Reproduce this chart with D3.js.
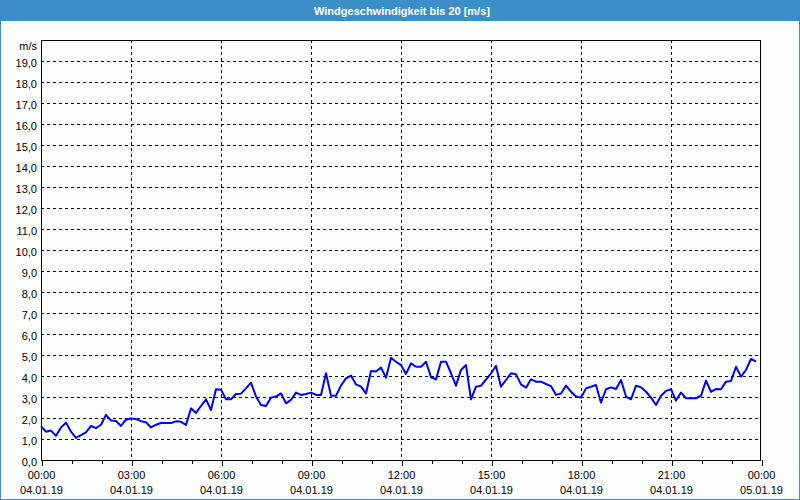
<!DOCTYPE html>
<html><head><meta charset="utf-8">
<script src="https://cdn.jsdelivr.net/npm/d3@7"></script>
<style>html,body{margin:0;padding:0;background:#fff;}svg{display:block;}</style>
</head><body>
<script>
const title = "Windgeschwindigkeit bis 20 [m/s]";
const unitLabel = "m/s";
const startTime = "2019-01-04T00:00:00";
const endTime = "2019-01-05T00:00:00";
const stepMinutes = 10;
const yTicks = [0,1,2,3,4,5,6,7,8,9,10,11,12,13,14,15,16,17,18,19];
const windSpeed = [
 1.6,1.35,1.4,1.15,1.55,1.78,1.35,1.05,1.18,1.32,1.62,1.52,1.68,2.15,1.88,1.86,1.62,1.92,
 1.98,1.95,1.85,1.8,1.55,1.68,1.76,1.76,1.76,1.84,1.82,1.67,2.46,2.24,2.57,2.89,2.38,3.37,
 3.35,2.89,2.89,3.14,3.16,3.41,3.68,3.02,2.62,2.57,2.97,3.02,3.17,2.7,2.86,3.21,3.1,3.14,
 3.21,3.1,3.1,4.13,3.06,3.06,3.54,3.89,4.02,3.6,3.49,3.17,4.24,4.21,4.4,3.92,4.87,4.68,
 4.52,4.1,4.6,4.44,4.44,4.68,3.94,3.84,4.68,4.68,4.13,3.54,4.29,4.52,2.89,3.49,3.54,3.83,
 4.13,4.48,3.49,3.81,4.13,4.08,3.6,3.44,3.84,3.73,3.73,3.62,3.52,3.1,3.17,3.54,3.25,3.02,
 2.97,3.41,3.49,3.57,2.73,3.37,3.46,3.38,3.81,3.02,2.89,3.54,3.46,3.25,2.97,2.62,3.06,3.29,
 3.37,2.83,3.21,2.94,2.94,2.94,3.06,3.78,3.25,3.38,3.37,3.73,3.76,4.44,3.97,4.29,4.81,4.68
];

const W = 800, H = 500;
const m = {left: 41, right: 761, top: 40, bottom: 460};
const font = "'Liberation Sans', Arial, sans-serif";
const blue = "#3b8fc6";

const svg = d3.select("body").append("svg").attr("width", W).attr("height", H);
svg.append("rect").attr("x",0.5).attr("y",0.5).attr("width",W-1).attr("height",H-1)
  .attr("fill","#fcfefc").attr("stroke",blue);
svg.append("rect").attr("x",0).attr("y",0).attr("width",W).attr("height",21).attr("fill",blue);
svg.append("text").attr("x",W/2+2).attr("y",11).attr("dy","0.35em").attr("text-anchor","middle")
  .attr("fill","#fff").attr("font-family",font).attr("font-weight","bold").attr("font-size","11px")
  .text(title);

const t0 = new Date(startTime), t1 = new Date(endTime);
const data = windSpeed.map((v,i)=>({t:new Date(t0.getTime()+i*stepMinutes*60000), v}));
const x = d3.scaleTime().domain([t0,t1]).range([m.left,m.right]);
const y = d3.scaleLinear().domain([0,20]).range([m.bottom,m.top]);

// grid
const majorTimes = d3.timeHour.every(3).range(t0, d3.timeMinute.offset(t1,1));
svg.append("g").selectAll("line").data(yTicks.filter(d=>d>0)).join("line")
  .attr("x1",m.left).attr("x2",m.right)
  .attr("y1",d=>Math.round(y(d))+0.5).attr("y2",d=>Math.round(y(d))+0.5)
  .attr("stroke","#000").attr("stroke-dasharray","3,3").attr("shape-rendering","crispEdges");
svg.append("g").selectAll("line").data(majorTimes.filter(d=>+d>+t0 && +d<+t1)).join("line")
  .attr("x1",d=>Math.round(x(d))+0.5).attr("x2",d=>Math.round(x(d))+0.5)
  .attr("y1",m.top).attr("y2",m.bottom)
  .attr("stroke","#000").attr("stroke-dasharray","3,3").attr("shape-rendering","crispEdges");

// x axis ticks
const xAxisMinor = d3.axisBottom(x).ticks(d3.timeHour.every(1)).tickSize(4).tickFormat("");
const gxm = svg.append("g").attr("transform",`translate(0.5,${m.bottom})`).call(xAxisMinor);
gxm.select(".domain").remove();
gxm.selectAll("line").attr("stroke","#000").attr("shape-rendering","crispEdges");
const xAxisMajor = d3.axisBottom(x).tickValues(majorTimes).tickSize(6).tickFormat("");
const gx = svg.append("g").attr("transform",`translate(0.5,${m.bottom})`).call(xAxisMajor);
gx.select(".domain").remove();
gx.selectAll("line").attr("stroke","#000").attr("shape-rendering","crispEdges");
const fT = d3.timeFormat("%H:%M"), fD = d3.timeFormat("%d.%m.%y");
const lab = svg.append("g").attr("font-family",font).attr("font-size","11px").attr("fill","#000");
lab.selectAll("text.t").data(majorTimes).join("text").attr("class","t")
  .attr("x",d=>x(d)+0.5).attr("y",475).attr("dy","0.35em").attr("text-anchor","middle").text(fT);
lab.selectAll("text.d").data(majorTimes).join("text").attr("class","d")
  .attr("x",d=>x(d)+0.5).attr("y",490).attr("dy","0.35em").attr("text-anchor","middle").text(fD);

// y axis labels
const yAxis = d3.axisLeft(y).tickValues(yTicks).tickSize(0).tickPadding(4)
  .tickFormat(d=>d3.format(".1f")(d).replace(".",","));
const gy = svg.append("g").attr("transform",`translate(${m.left},2)`).call(yAxis);
gy.select(".domain").remove();
gy.selectAll("text").attr("font-family",font).attr("font-size","11px").attr("fill","#000");
svg.append("text").attr("x",37).attr("y",46).attr("dy","0.35em").attr("text-anchor","end")
  .attr("font-family",font).attr("font-size","11px").text(unitLabel);

// frame
svg.append("rect").attr("x",m.left+0.5).attr("y",m.top+0.5)
  .attr("width",m.right-m.left-1).attr("height",m.bottom-m.top)
  .attr("fill","none").attr("stroke","#000").attr("shape-rendering","crispEdges");

// line
const line = d3.line().x(d=>x(d.t)).y(d=>y(d.v));
svg.append("path").datum(data).attr("d",line).attr("fill","none")
  .attr("stroke","#0000e6").attr("stroke-width",2).attr("stroke-linejoin","round");
</script>
</body></html>
